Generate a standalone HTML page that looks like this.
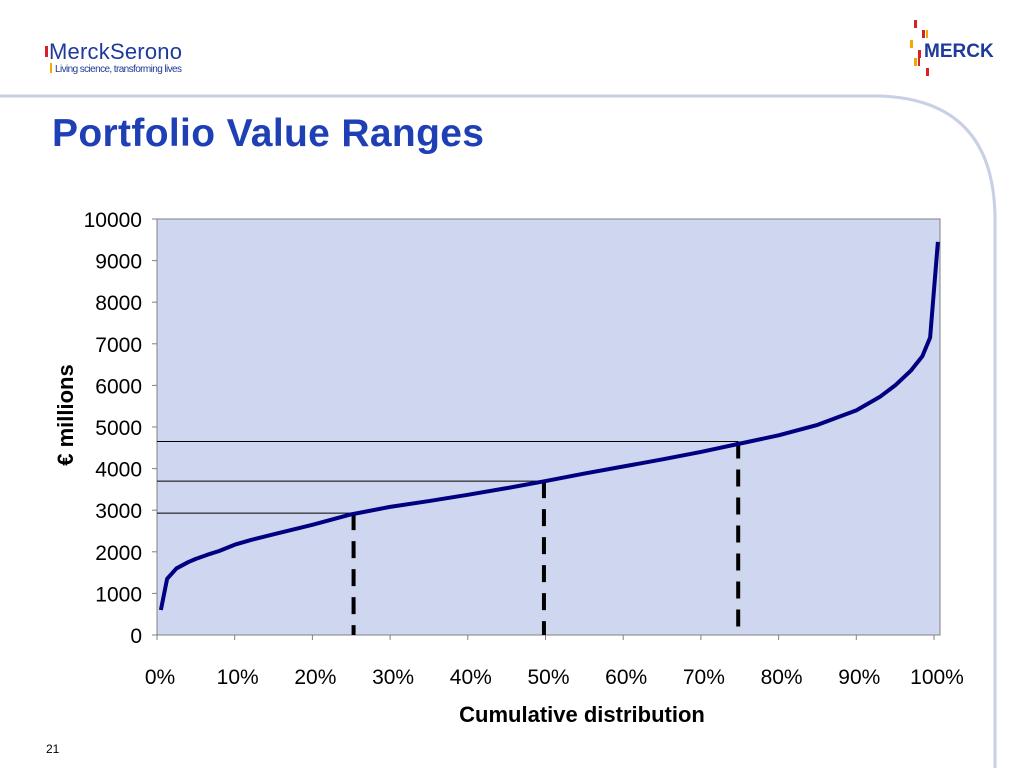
<!DOCTYPE html>
<html><head><meta charset="utf-8"><style>
body{margin:0;width:1024px;height:768px;background:#fff;overflow:hidden;font-family:"Liberation Sans",Arial,sans-serif;position:relative}
</style></head><body>
<svg width="1024" height="768" style="position:absolute;left:0;top:0">
<path d="M0 96 L880 96 Q995 100 995 220 L995 768" fill="none" stroke="#c8cfe6" stroke-width="3"/>
<g>
<rect x="45" y="46" width="3" height="11" fill="#d8202a"/>
<text x="49" y="59" font-size="22" fill="#1e3a9a" font-family="Liberation Sans" textLength="133">MerckSerono</text>
<rect x="50" y="63" width="2" height="10" fill="#f2a900"/>
<text x="55" y="72" font-size="10" fill="#1e3a9a" textLength="127">Living science, transforming lives</text>
</g>
<g>
<rect x="914" y="20" width="3" height="8" fill="#d8202a"/>
<rect x="922" y="30" width="3" height="8" fill="#d8202a"/>
<rect x="926" y="30" width="2" height="8" fill="#f2a900"/>
<rect x="910" y="40" width="3" height="8" fill="#f2a900"/>
<rect x="918" y="50" width="3" height="8" fill="#d8202a"/>
<rect x="914" y="58" width="3" height="8" fill="#f2a900"/>
<rect x="918" y="58" width="2" height="8" fill="#d8202a"/>
<rect x="926" y="68" width="3" height="8" fill="#d8202a"/>
<text x="924" y="57" font-size="19" font-weight="bold" fill="#1e3a9a">MERCK</text>
</g>
<text x="52" y="146" font-size="39" font-weight="bold" fill="#1f3fb5" textLength="432">Portfolio Value Ranges</text>
<text x="46" y="753" font-size="12" fill="#000">21</text>
<g id="chart"></g>
</svg>
<script>
const yTicks=[0,1000,2000,3000,4000,5000,6000,7000,8000,9000,10000];
const xTicks=[0,10,20,30,40,50,60,70,80,90,100];
const curveX=[0.5,1.3,2.5,4,5,6.5,8,10,12,15,20,25,30,35,40,45,50,55,60,65,70,75,80,85,90,93,95,97,98.5,99.5,100.5];
const curveY=[600,1350,1600,1750,1830,1930,2020,2170,2280,2420,2650,2900,3080,3220,3370,3530,3700,3880,4050,4220,4400,4600,4800,5050,5400,5720,6000,6350,6700,7150,9450];
const quartileX=[25.3,49.8,74.8];
const quartileY=[2930,3700,4650];
const L=157,R=940,T=219,B=635;
const x=p=>L+p*7.77;
const y=v=>B-v*(B-T)/10000;
const NS="http://www.w3.org/2000/svg";
const g=document.getElementById('chart');
function mk(tag,attrs,parent){const e=document.createElementNS(NS,tag);for(const k in attrs)e.setAttribute(k,attrs[k]);(parent||g).appendChild(e);return e;}
const bg=mk('rect',{x:L,y:T,width:R-L,height:B-T,fill:'#cfd6ef',stroke:'#808080','stroke-width':1});


yTicks.forEach(v=>{
  const t=mk('text',{x:142,y:y(v)+8,'font-size':21,'text-anchor':'end',fill:'#000'});t.textContent=v;
  
  
  mk('line',{x1:L-5,x2:L,y1:y(v),y2:y(v),stroke:'#808080'});
});
xTicks.forEach(p=>{
  const t=mk('text',{x:x(p)+3,y:684,'font-size':21,'text-anchor':'middle',fill:'#000'});t.textContent=p+'%';
  
  
  mk('line',{x1:x(p),x2:x(p),y1:B,y2:B+5,stroke:'#808080'});
});
quartileX.forEach((p,i)=>{
  const h=mk('line',{x1:L,x2:x(p),y1:y(quartileY[i]),y2:y(quartileY[i]),stroke:'#000','stroke-width':1});
  
  
  const d=mk('line',{x1:x(p),x2:x(p),y1:y(quartileY[i]),y2:B,stroke:'#000','stroke-width':4,'stroke-dasharray':'17,11'});
  
  
});
const pl=mk('polyline',{points:curveX.map((p,i)=>x(p)+','+y(curveY[i])).join(' '),fill:'none',stroke:'#000080','stroke-width':4,'stroke-linejoin':'round'});


const xt=mk('text',{x:582,y:722,'font-size':22,'font-weight':'bold','text-anchor':'middle'});xt.textContent='Cumulative distribution';


const yt=mk('text',{x:0,y:0,'font-size':22,'font-weight':'bold','text-anchor':'middle',transform:'translate(73,415) rotate(-90)'});yt.textContent='€ millions';


</script>
</body></html>
